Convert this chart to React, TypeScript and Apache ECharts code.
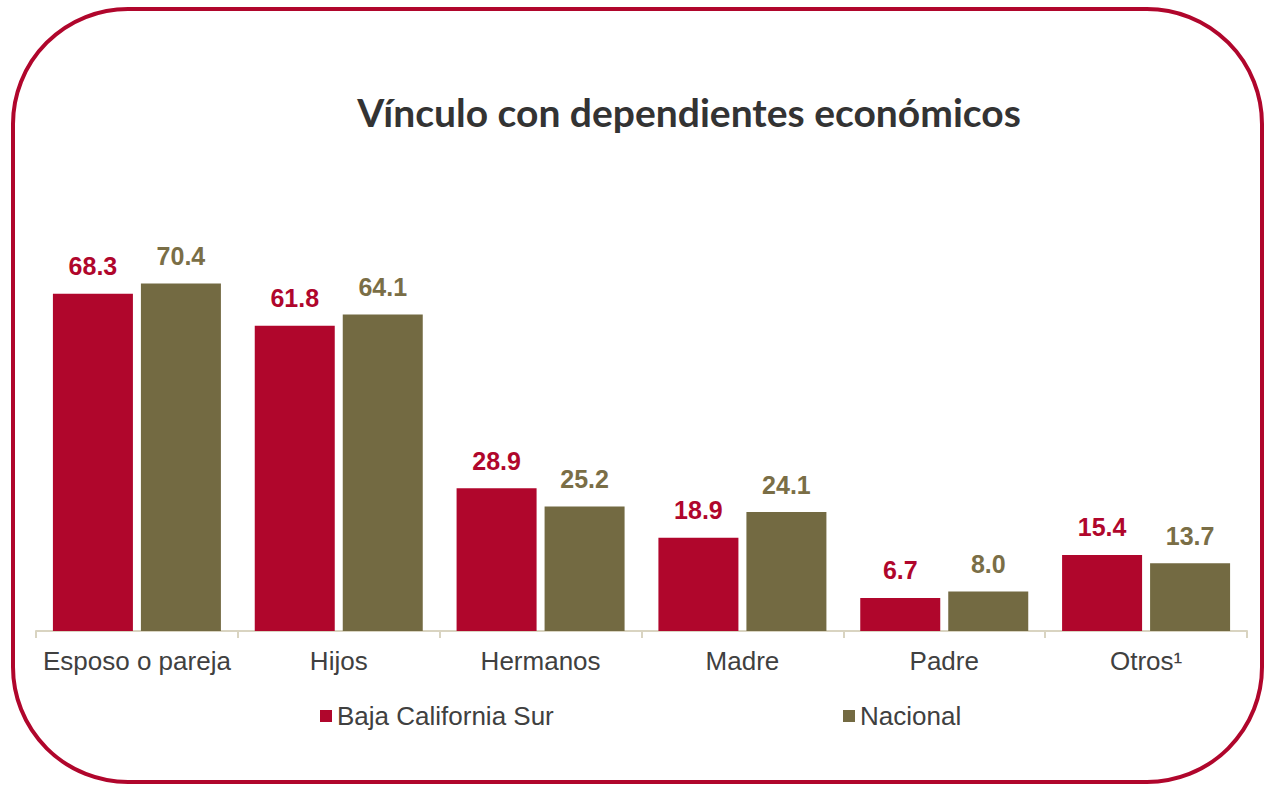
import React, { useEffect, useRef } from "react";
import * as echarts from "echarts";

const categories = ["Esposo o pareja", "Hijos", "Hermanos", "Madre", "Padre", "Otros¹"];
const bcsValues = [68.3, 61.8, 28.9, 18.9, 6.7, 15.4];
const nacionalValues = [70.4, 64.1, 25.2, 24.1, 8.0, 13.7];
const seriesNames = ["Baja California Sur", "Nacional"];
const titleText = "Vínculo con dependientes económicos";

const RED = "#B0062C";
const OLIVE = "#736A42";

export default function App() {
  const ref = useRef<HTMLDivElement>(null);
  useEffect(() => {
    if (!ref.current) return;
    const chart = echarts.init(ref.current, undefined, { renderer: "svg" });
    const labelStyle = (color: string) => ({
      show: true,
      position: "top",
      distance: 15,
      color,
      fontFamily: "Liberation Sans, Arial, sans-serif",
      fontWeight: "bold",
      fontSize: 25,
      formatter: (p: any) => Number(p.value).toFixed(1),
    });
    const legendText = { fontFamily: "Liberation Sans, Arial, sans-serif", fontSize: 26, color: "#404040" };
    chart.setOption({
      animation: false,
      backgroundColor: "#ffffff",
      graphic: [
        {
          type: "rect",
          shape: { x: 13, y: 9, width: 1249, height: 773, r: 115 },
          style: { fill: "none", stroke: RED, lineWidth: 4 },
          silent: true,
        },
      ],
      title: {
        text: titleText,
        left: 684,
        top: 87,
        textAlign: "center",
        textStyle: {
          fontFamily: "Lato, sans-serif",
          fontWeight: "bold",
          fontSize: 39,
          color: "#333333",
        },
      },
      legend: [
        {
          data: [seriesNames[0]],
          left: 320,
          top: 703,
          padding: 0,
          icon: "rect",
          itemWidth: 12,
          itemHeight: 12,
          textStyle: legendText,
        },
        {
          data: [seriesNames[1]],
          left: 843,
          top: 703,
          padding: 0,
          icon: "rect",
          itemWidth: 12,
          itemHeight: 12,
          textStyle: legendText,
        },
      ],
      grid: { left: 36, top: 236, width: 1211, height: 395, containLabel: false },
      xAxis: {
        type: "category",
        data: categories,
        axisLine: { show: true, lineStyle: { color: "#D9D4C1", width: 2 } },
        axisTick: { show: true, alignWithLabel: false, interval: 0, length: 7, lineStyle: { color: "#D9D4C1", width: 2 } },
        axisLabel: {
          interval: 0,
          margin: 17,
          fontFamily: "Liberation Sans, Arial, sans-serif",
          fontSize: 26,
          color: "#404040",
        },
      },
      yAxis: {
        type: "value",
        min: 0,
        max: 80,
        show: false,
        splitLine: { show: false },
      },
      series: [
        {
          name: seriesNames[0],
          type: "bar",
          data: bcsValues,
          barWidth: 80,
          barGap: "10%",
          itemStyle: { color: RED },
          label: labelStyle(RED),
        },
        {
          name: seriesNames[1],
          type: "bar",
          data: nacionalValues,
          barWidth: 80,
          barGap: "10%",
          itemStyle: { color: OLIVE },
          label: labelStyle("#7A6E46"),
        },
      ],
    });
    return () => chart.dispose();
  }, []);
  return (
    <div
      ref={ref}
      style={{ position: "fixed", left: 0, top: 0, width: 1266, height: 786, background: "#fff" }}
    />
  );
}
